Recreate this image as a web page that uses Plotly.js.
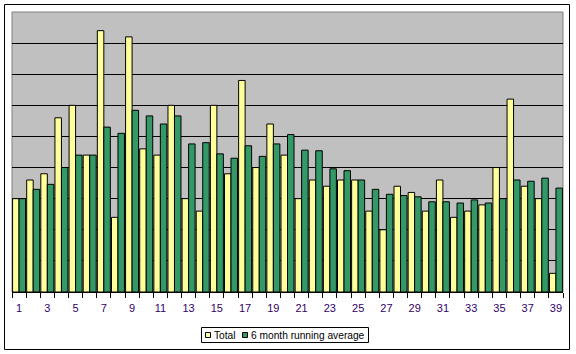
<!DOCTYPE html>
<html>
<head>
<meta charset="utf-8">
<script src="https://cdn.plot.ly/plotly-3.0.1.min.js"></script>
<style>html,body{margin:0;padding:0;background:#fff;}#chart{width:576px;height:354px;}</style>
</head>
<body>
<div id="chart"></div>
<script>
const months = [1,2,3,4,5,6,7,8,9,10,11,12,13,14,15,16,17,18,19,20,21,22,23,24,25,26,27,28,29,30,31,32,33,34,35,36,37,38,39];
const total = [15,18,19,28,30,22,42,12,41,23,22,30,15,13,30,19,34,20,27,22,15,18,17,18,18,13,10,17,16,13,18,12,13,14,20,31,17,15,3];
const runningAvg = [15,16.5,17.3,20,22,22,26.5,25.5,29.2,28.3,27,28.3,23.8,24,22.2,21.5,23.5,21.8,23.8,25.3,22.8,22.7,19.8,19.5,18,16.5,15.7,15.5,15.3,14.5,14.5,14.3,14.8,14.3,15,18,17.8,18.3,16.7];
const tickLabels = months.filter(m => m % 2 === 1);
const seriesNames = ['Total', '6 month running average'];
const colors = ['#ffff99', '#339966'];

const px = v => (v - 12) / 551;
const py = v => (292 - v) / 280;

const traces = [
  {type:'bar', name:seriesNames[0], x:months, y:total, marker:{color:colors[0], line:{color:'#000', width:1}}, hoverinfo:'x+y'},
  {type:'bar', name:seriesNames[1], x:months, y:runningAvg, marker:{color:colors[1], line:{color:'#000', width:1}}, hoverinfo:'x+y'}
];

const shapes = [
  {type:'rect', xref:'paper', yref:'paper', x0:px(4.5), x1:px(569.5), y0:py(349.5), y1:py(4.5), line:{color:'#000', width:1}, layer:'below'},
  {type:'rect', xref:'paper', yref:'paper', x0:0, x1:1, y0:0, y1:1, line:{color:'#808080', width:1}, layer:'below'},
  {type:'rect', xref:'paper', yref:'paper', x0:px(201.5), x1:px(368.5), y0:py(342.5), y1:py(327.5), line:{color:'#000', width:1}, fillcolor:'#fff'},
  {type:'rect', xref:'paper', yref:'paper', x0:px(205.5), x1:px(210.5), y0:py(337.5), y1:py(332.5), line:{color:'#000', width:1}, fillcolor:colors[0]},
  {type:'rect', xref:'paper', yref:'paper', x0:px(242.5), x1:px(247.5), y0:py(337.5), y1:py(332.5), line:{color:'#000', width:1}, fillcolor:colors[1]}
];

const legendFont = {family:'Liberation Sans, Arial, sans-serif', size:10.2, color:'#000'};
const annotations = [
  {xref:'paper', yref:'paper', x:px(211.5), y:py(335.5), xanchor:'left', yanchor:'middle', text:seriesNames[0], showarrow:false, font:legendFont},
  {xref:'paper', yref:'paper', x:px(249), y:py(335.5), xanchor:'left', yanchor:'middle', text:seriesNames[1], showarrow:false, font:legendFont}
];

const layout = {
  width:576, height:354,
  margin:{l:12, r:13, t:12, b:62, pad:0},
  paper_bgcolor:'#fff', plot_bgcolor:'#c0c0c0',
  showlegend:false,
  barmode:'group', bargap:0.08, bargroupgap:0,
  font:{family:'Liberation Sans, Arial, sans-serif', size:11, color:'#000'},
  xaxis:{range:[0.5,39.5], tickvals:tickLabels, ticktext:tickLabels.map(String), ticks:'', showgrid:false, zeroline:false,
         showline:true, linecolor:'#000', linewidth:1, tickfont:{color:'#330066', size:11}, ticklabelstandoff:6,
         minor:{tick0:0.5, dtick:1, ticks:'outside', ticklen:5, tickcolor:'#000', showgrid:false}},
  yaxis:{range:[0,45], dtick:5, showticklabels:false, ticks:'', showgrid:true, gridcolor:'#000', gridwidth:1, zeroline:false, showline:false},
  shapes:shapes, annotations:annotations
};

Plotly.newPlot('chart', traces, layout, {displayModeBar:false, staticPlot:true});
</script>
</body>
</html>
